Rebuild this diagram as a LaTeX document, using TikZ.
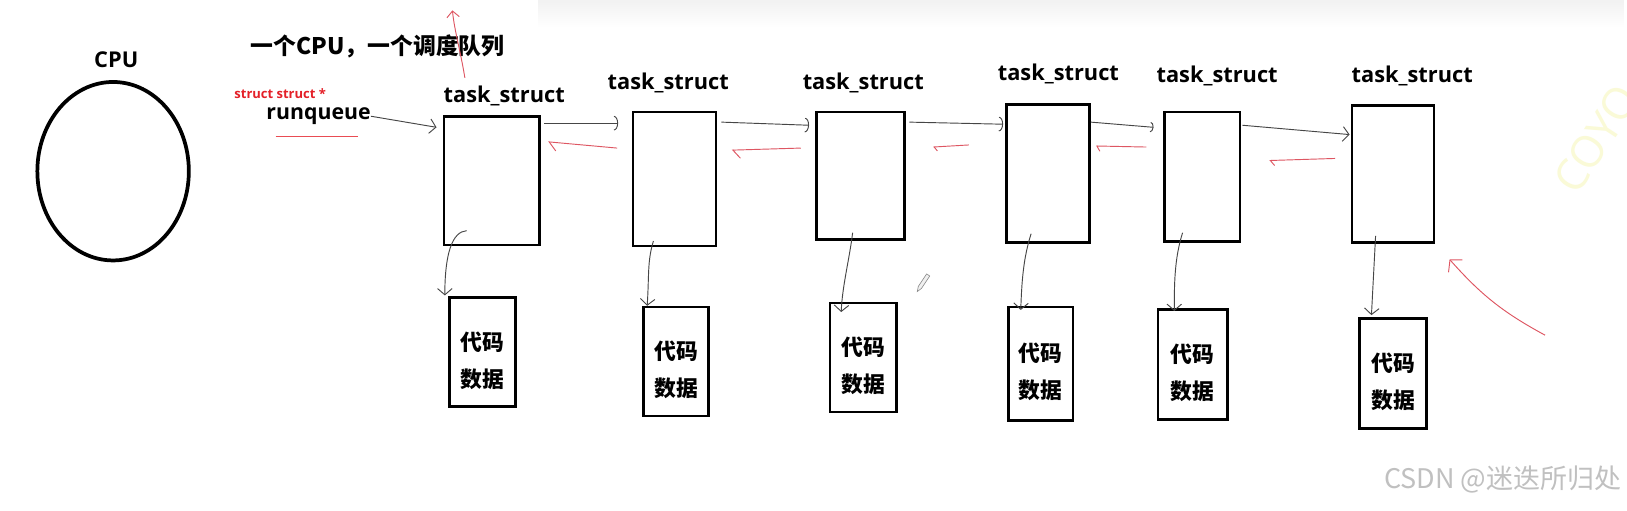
\documentclass[tikz,border=0pt]{standalone}
\usepackage{fontspec}
\usetikzlibrary{arrows.meta,calc,shapes.geometric,fadings}
\newfontfamily\lat{Open Sans}
\newfontfamily\cjk{Noto Sans CJK SC}
\definecolor{pen}{RGB}{70,70,70}
\definecolor{redpen}{RGB}{222,86,98}
\definecolor{redtxt}{RGB}{228,32,40}
\definecolor{wm}{RGB}{192,192,192}
\definecolor{wmy}{RGB}{250,250,215}
\begin{document}
\begin{tikzpicture}[x=1pt,y=-1pt,
  box/.style={draw=black,line width=2.6pt,inner sep=0pt,fill=white},
  datatext/.style={align=center,inner sep=0pt,font=\cjk\bfseries\fontsize{21}{36}\selectfont},
  lbl/.style={font=\lat\bfseries\fontsize{21}{22}\selectfont,inner sep=0pt},
  fwd/.style={draw=pen,line width=0.9pt},
  back/.style={draw=redpen,line width=0.9pt,-{Straight Barb[harpoon,length=7pt,width=16pt]}},
  down/.style={draw=pen,line width=0.9pt,-{Straight Barb[length=6pt,width=14pt]}}]
\useasboundingbox (0,0) rectangle (1568,492);
\fill[white] (0,0) rectangle (1568,492);
\fill[black!5,path fading=south] (520,0) rectangle (1568,26);

% watermark (behind everything)
\begin{scope}
\clip (0,0) rectangle (1568,492);
\node[text=wmy,font=\lat\fontsize{42}{42}\selectfont,rotate=57,anchor=base west,inner sep=0pt] (wm1) at (1520,190) {COYO};
\end{scope}

% CPU
\node[font=\lat\bfseries\fontsize{21}{22}\selectfont] (cpulbl) at (112,58) {CPU};
\node[draw=black,ellipse,line width=3.6pt,minimum width=146pt,minimum height=172pt,inner sep=0pt] (cpu) at (109,165) {};

% title
\node[font=\cjk\bfseries\fontsize{22}{22}\selectfont] (title) at (364,45) {一个CPU，一个调度队列};

% runqueue
\node[font=\lat\bfseries\fontsize{12.5}{13}\selectfont,text=redtxt] (st) at (270,90) {struct struct *};
\node[font=\lat\bfseries\fontsize{20.5}{22}\selectfont,inner sep=0pt] (rq) at (307,112) {runqueue};
\draw[redtxt!80!white,line width=0.9pt] ($(rq.south west)+(9,11)$) -- ($(rq.south west)+(88,11)$);

% task boxes
\node[box,minimum width=92pt,minimum height=124pt] (t1) at (474,174) {};
\node[box,minimum width=80pt,minimum height=129pt] (t2) at (650,172.5) {};
\node[box,minimum width=85pt,minimum height=123pt] (t3) at (829.5,169.5) {};
\node[box,minimum width=80pt,minimum height=133pt] (t4) at (1010,167.5) {};
\node[box,minimum width=73pt,minimum height=125pt] (t5) at (1158.5,170.5) {};
\node[box,minimum width=79pt,minimum height=132pt] (t6) at (1342.5,168) {};

\node[lbl] (l1) at (486,92) {task\_struct};
\node[lbl] (l2) at (644,80) {task\_struct};
\node[lbl] (l3) at (832,80) {task\_struct};
\node[lbl] (l4) at (1020,71) {task\_struct};
\node[lbl] (l5) at (1173,73) {task\_struct};
\node[lbl] (l6) at (1361,73) {task\_struct};

% data boxes
\node[box,minimum width=64pt,minimum height=105pt] (d1) at (465,339.5) {};
\node[box,minimum width=63pt,minimum height=105pt] (d2) at (651.5,348.5) {};
\node[box,minimum width=64pt,minimum height=105pt] (d3) at (832,344.5) {};
\node[box,minimum width=62pt,minimum height=109pt] (d4) at (1003,350.5) {};
\node[box,minimum width=67pt,minimum height=106pt] (d5) at (1149.5,351) {};
\node[box,minimum width=65pt,minimum height=106pt] (d6) at (1342.5,360) {};
\node[datatext] (x1) at ($(d1)+(0,8)$) {代码\\数据};
\node[datatext] (x2) at ($(d2)+(0,8)$) {代码\\数据};
\node[datatext] (x3) at ($(d3)+(0,8)$) {代码\\数据};
\node[datatext] (x4) at ($(d4)+(0,8)$) {代码\\数据};
\node[datatext] (x5) at ($(d5)+(0,8)$) {代码\\数据};
\node[datatext] (x6) at ($(d6)+(0,8)$) {代码\\数据};

% runqueue arrow
\draw[fwd,-{Straight Barb[length=6pt,width=14pt]}] (rq.east) -- ($(t1.north west)+(-6,12)$);

% forward links
\draw[fwd,-{Arc Barb[length=4pt,width=14pt]}] ($(t1.north east)+(3,8)$) -- ($(t2.north west)+(-13,12)$);
\draw[fwd,-{Arc Barb[length=4pt,width=14pt]}] ($(t2.north east)+(4,11)$) -- ($(t3.north west)+(-6,14)$);
\draw[fwd,-{Arc Barb[length=4pt,width=14pt]}] ($(t3.north east)+(3,11)$) -- ($(t4.north west)+(-2,20)$);
\draw[fwd,-{Arc Barb[length=3pt,width=10pt]}] ($(t4.north east)+(0,18)$) -- ($(t5.north west)+(-9,16)$);
\draw[fwd,-{Straight Barb[length=6pt,width=14pt]}] ($(t5.north east)+(1,14)$) -- ($(t6.north west)+(-1,29)$);

% backward links (red)
\draw[back] ($(t2.north west)+(-14,36)$) -- ($(t1.north east)+(7,26)$);
\draw[back] ($(t3.north west)+(-14,36)$) -- ($(t2.north east)+(14,38)$);
\draw[back,-{Straight Barb[harpoon,length=3pt,width=8pt]}] ($(t4.north west)+(-35,40)$) -- ($(t3.north east)+(26,35)$);
\draw[back,-{Straight Barb[harpoon,length=3pt,width=10pt]}] ($(t5.north west)+(-16,35)$) -- ($(t4.north east)+(5,41)$);
\draw[back,-{Straight Barb[harpoon,length=4pt,width=10pt]}] ($(t6.north west)+(-15,52)$) -- ($(t5.north east)+(27,48)$);

% down links
\draw[down] ($(t1.south west)+(23,-15)$) .. controls +(-14,1) and +(0,-40) .. ($(d1.north west)+(-3,-1)$);
\draw[down] ($(t2.south west)+(21,-6)$) .. controls +(-6,20) and +(2,-30) .. ($(d2.north west)+(5,0)$);
\draw[down] ($(t3.south west)+(36,-8)$) .. controls +(-3,25) and +(1,-25) .. ($(d3.north west)+(12,10)$);
\draw[down] ($(t4.south west)+(25,-10)$) .. controls +(-8,25) and +(1,-25) .. ($(d4.north west)+(13,4)$);
\draw[down] ($(t5.south west)+(19,-10)$) .. controls +(-8,25) and +(0,-25) .. ($(d5.north west)+(17,3)$);
\draw[down] ($(t6.south west)+(24,-8)$) -- ($(d6.north west)+(13,-2)$);

% red free arrows
\coordinate (upA) at (448,75);
\coordinate (upB) at (436,10);
\draw[redpen,line width=0.9pt,-{Straight Barb[length=6pt,width=12pt]}] (upA) .. controls +(-4,-25) and +(2,20) .. (upB);
\coordinate (bigA) at (1489,323);
\coordinate (bigB) at (1397,250);
\draw[redpen,line width=0.9pt,-{Straight Barb[length=8pt,width=18pt]}] (bigA) to[bend left=10] (bigB);

% pencil cursor
\draw[black!45,line width=0.6pt,fill=black!6] (884,281) -- (885,276) -- (893,264) -- (896,266) -- (888,278) -- cycle;

% CSDN watermark
\node[text=wm,font=\cjk\fontsize{26}{26}\selectfont,anchor=east] (wm2) at (1566,462) {CSDN @迷迭所归处};
\end{tikzpicture}
\end{document}
